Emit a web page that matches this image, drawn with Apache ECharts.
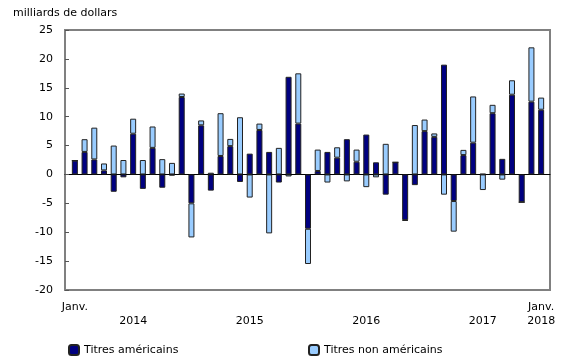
<!DOCTYPE html>
<html>
<head>
<meta charset="utf-8">
<script src="https://cdn.jsdelivr.net/npm/echarts@6/dist/echarts.min.js"></script>
<style>html,body{margin:0;padding:0;background:#fff}#c{width:580px;height:360px}</style>
</head>
<body>
<div id="c"></div>
<script>
var months = [];
for (var y = 2014; y <= 2018; y++) { for (var m = 1; m <= 12; m++) { if (y === 2018 && m > 1) break; months.push(y + '-' + (m < 10 ? '0' + m : m)); } }
var usSecurities = [2.4, 3.9, 2.6, 0.7, -3.0, -0.5, 7.05, -2.5, 4.6, -2.3, -0.2, 13.4,
  -5.0, 8.5, -2.8, 3.2, 4.9, -1.3, 3.6, 7.7, 3.9, -1.4, 16.9, 8.8,
  -9.4, 0.6, 3.9, 2.9, 6.1, 2.2, 6.9, 2.1, -3.5, 2.1, -7.9, -1.85,
  7.5, 6.5, 19.0, -4.6, 3.35, 5.5, 0.1, 10.6, 2.7, 13.8, -4.8, 12.6, 11.2];
var nonUsSecurities = [0, 2.2, 5.5, 1.2, 5.0, 2.5, 2.6, 2.5, 3.7, 2.65, 2.0, 0.6,
  -5.9, 0.85, 0.3, 7.4, 1.25, 9.9, -4.0, 1.1, -10.2, 4.6, -0.35, 8.7,
  -6.1, 3.7, -1.4, 1.8, -1.2, 2.1, -2.2, -0.5, 5.3, 0, -0.1, 8.55,
  2.0, 0.6, -3.5, -5.3, 0.9, 8.0, -2.7, 1.45, -0.9, 2.5, 0, 9.4, 2.1];
var seriesNames = ['Titres américains', 'Titres non américains'];
var monthTickIdx = [0, 48];
var monthTickLabels = ['Janv.', 'Janv.'];
var yearTickIdx = [6, 18, 30, 42, 48];
var yearTickLabels = ['2014', '2015', '2016', '2017', '2018'];
var unitLabel = 'milliards de dollars';

var font = 'DejaVu Sans, Verdana, sans-serif';
function labelFor(idxList, labels) {
  return function (value) { var k = idxList.indexOf(months.indexOf(value)); return k >= 0 ? labels[k] : ''; };
}
function showAt(idxList) { return function (index) { return idxList.indexOf(index) >= 0; }; }
var chart = echarts.init(document.getElementById('c'));
chart.setOption({
  animation: false,
  textStyle: { fontFamily: font },
  title: { text: unitLabel, left: 8, top: 3, textStyle: { fontFamily: font, fontSize: 11, fontWeight: 'normal', color: '#000' } },
  grid: [
    { left: 65, right: 30, top: 30, bottom: 70, show: true, borderColor: '#808080', borderWidth: 2, backgroundColor: 'transparent' },
    { left: 70, right: 34, top: 30, bottom: 70 }
  ],
  legend: [
    { data: [seriesNames[0]], left: 63, top: 339, itemWidth: 10, itemHeight: 10, itemGap: 5, textStyle: { fontFamily: font, fontSize: 11, color: '#000' } },
    { data: [seriesNames[1]], left: 303, top: 339, itemWidth: 10, itemHeight: 10, itemGap: 5, textStyle: { fontFamily: font, fontSize: 11, color: '#000' } }
  ],
  xAxis: [
    { type: 'value', gridIndex: 0, min: 0, max: 1, axisLine: { show: true, onZero: true, lineStyle: { color: '#000', width: 1 } },
      axisTick: { show: false }, splitLine: { show: false }, axisLabel: { show: false } },
    { type: 'category', gridIndex: 1, data: months, position: 'bottom', axisLine: { show: false, onZero: false }, axisTick: { show: false },
      axisLabel: { interval: showAt(monthTickIdx), formatter: labelFor(monthTickIdx, monthTickLabels), fontSize: 11, color: '#000', margin: 12, fontFamily: font } },
    { type: 'category', gridIndex: 1, data: months, position: 'bottom', offset: 14, axisLine: { show: false, onZero: false }, axisTick: { show: false },
      axisLabel: { interval: showAt(yearTickIdx), formatter: labelFor(yearTickIdx, yearTickLabels), fontSize: 11, color: '#000', margin: 12, fontFamily: font } }
  ],
  yAxis: [
    { type: 'value', gridIndex: 0, min: -20, max: 25, interval: 5, axisLine: { show: false },
      axisTick: { show: true, inside: true, length: 4, lineStyle: { color: '#555', width: 1 } },
      splitLine: { show: false }, axisLabel: { fontSize: 11, color: '#000', margin: 12, fontFamily: font } },
    { type: 'value', gridIndex: 1, min: -20, max: 25, interval: 5, show: false }
  ],
  series: [
    { name: seriesNames[0], type: 'bar', stack: 'total', xAxisIndex: 1, yAxisIndex: 1, barWidth: 6, data: usSecurities,
      itemStyle: { color: '#000080', borderColor: '#222', borderWidth: 1 } },
    { name: seriesNames[1], type: 'bar', stack: 'total', xAxisIndex: 1, yAxisIndex: 1, barWidth: 6, data: nonUsSecurities,
      itemStyle: { color: '#99CCFF', borderColor: '#222', borderWidth: 1 } }
  ]
});
</script>
</body>
</html>
